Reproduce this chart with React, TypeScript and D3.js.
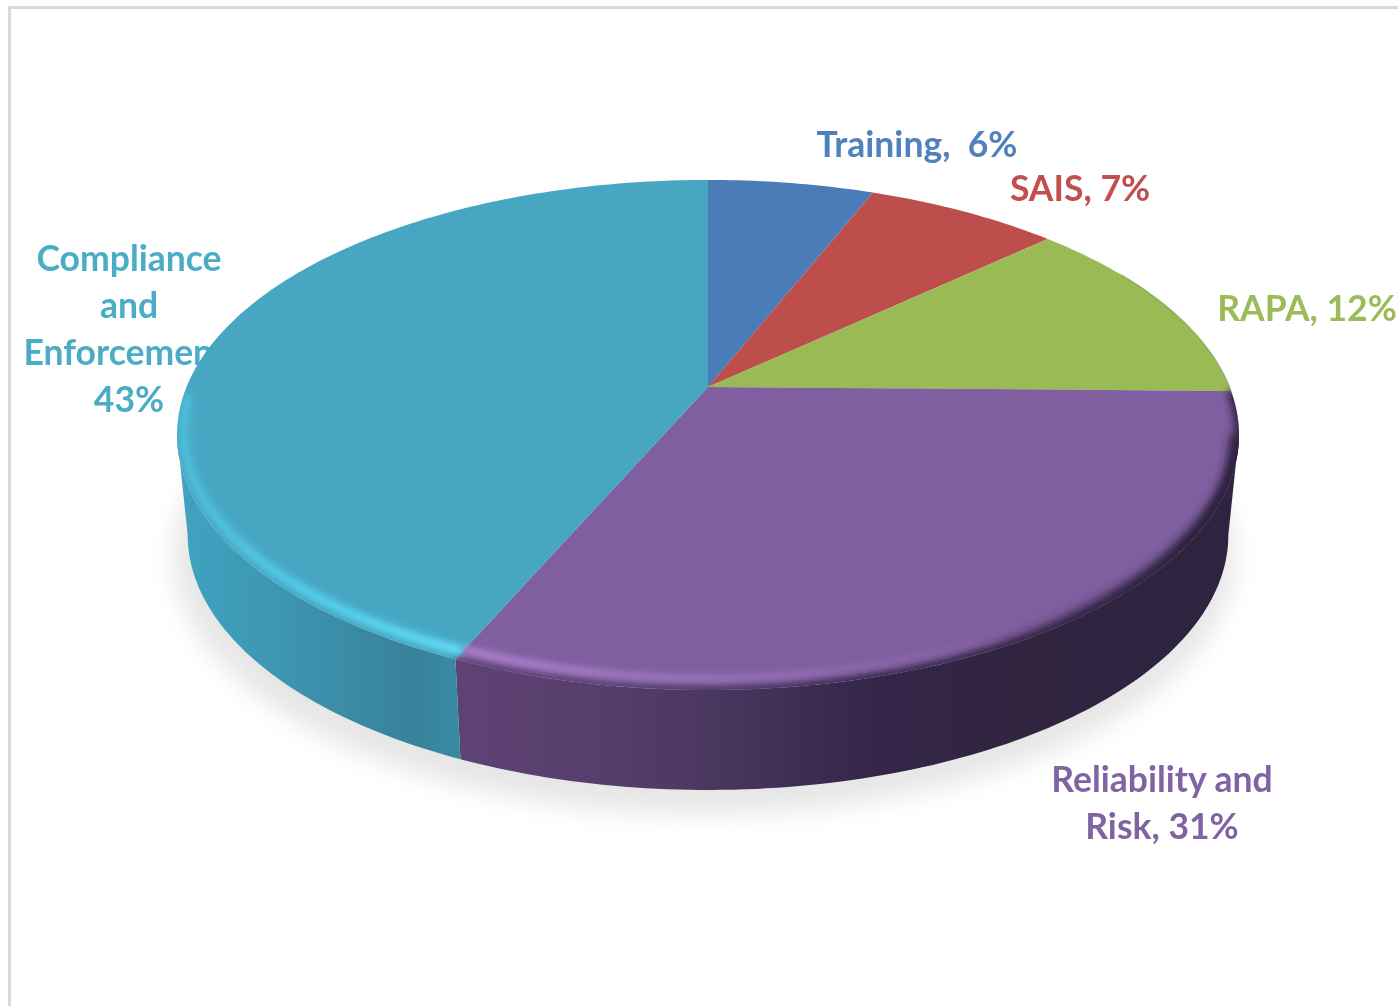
import React from "react";
import * as d3 from "d3";

// Share of work by program area, in percent, clockwise from twelve o'clock.
const categories = ["Training", "SAIS", "RAPA", "Reliability and Risk", "Compliance and Enforcement"];
const shares = [6, 7, 12, 31, 43];
const faceColors = ["#4a7db8", "#bd4e4b", "#9aba56", "#7f5f9f", "#47a7c3"];
const labelColors = ["#4f81bd", "#c0504d", "#9bbb59", "#8064a2", "#4bacc6"];
const labelLines = [
  ["Training,  6%"],
  ["SAIS, 7%"],
  ["RAPA, 12%"],
  ["Reliability and", "Risk, 31%"],
  ["Compliance", "and", "Enforcement,", "43%"],
];

const WIDTH = 1398;
const HEIGHT = 1006;

// Perspective projection of the unit disc onto the page.
const APEX_X = 708;
const APEX_Y = 387;
const SCALE_X = 521.5;
const SCALE_Y = 246;
const FORESHORTEN = 0.188;
const THICKNESS = 100;
const BASE_NARROWING = 0.98;

type Pt = [number, number];

function project(angle: number, radius = 1): Pt {
  const u = Math.sin(angle) * radius;
  const v = Math.cos(angle) * radius;
  const w = 1 + FORESHORTEN * v;
  return [APEX_X + (SCALE_X * u) / w, APEX_Y - (SCALE_Y * v) / w];
}

function projectBase(angle: number): Pt {
  const [x, y] = project(angle);
  return [APEX_X + (x - APEX_X) * BASE_NARROWING, y + THICKNESS];
}

const pieLayout = d3.pie<number>().sort(null).value((d) => d);
const arcs = pieLayout(shares);
const lineGen = d3.line<Pt>();
const deg = (d: number) => (d * Math.PI) / 180;

function sampleAngles(a0: number, a1: number): number[] {
  const n = Math.max(2, Math.ceil(((a1 - a0) * 180) / Math.PI));
  return d3.range(n + 1).map((i) => a0 + ((a1 - a0) * i) / n);
}

const facePath = (a0: number, a1: number) =>
  lineGen([[APEX_X, APEX_Y], ...sampleAngles(a0, a1).map((a) => project(a))]) + "Z";

const wallPath = (a0: number, a1: number) => {
  const angles = sampleAngles(a0, a1);
  return (
    lineGen([
      ...angles.map((a) => project(a)),
      ...angles.slice().reverse().map((a) => projectBase(a)),
    ]) + "Z"
  );
};

// Rim curve whose inset may change linearly along the arc.
const rimPath = (a0: number, a1: number, r0: number, r1: number = r0) => {
  const radius = d3.scaleLinear().domain([a0, a1]).range([r0, r1]);
  return lineGen(sampleAngles(a0, a1).map((a) => project(a, radius(a)))) as string;
};

// Line anchors for the data labels: centre x and first baseline.
const labelAnchors: Pt[] = [
  [917, 157],
  [1080, 201],
  [1307, 321],
  [1162, 792],
  [129, 271],
];
const LINE_STEP = 47;

const purple = arcs[3];
const cyan = arcs[4];
// Where the disc's silhouette is widest on each side; walls end at these angles.
const RIGHT_TANGENT = deg(100.8);
const LEFT_TANGENT = deg(259.2);

export default function App() {
  return (
    <svg
      width={WIDTH}
      height={HEIGHT}
      viewBox={`0 0 ${WIDTH} ${HEIGHT}`}
      style={{ position: "absolute", left: 0, top: 0, background: "#fff" }}
    >
      <defs>
        <filter id="shadowBlur" x="-20%" y="-20%" width="140%" height="140%">
          <feGaussianBlur stdDeviation="12" />
        </filter>
        <filter id="rimBlur" x="-10%" y="-10%" width="120%" height="120%">
          <feGaussianBlur stdDeviation="3.5" />
        </filter>
        <filter id="softEdge" x="-10%" y="-10%" width="120%" height="120%">
          <feGaussianBlur stdDeviation="5" />
        </filter>
        <filter id="textSoft">
          <feGaussianBlur stdDeviation="0.5" />
        </filter>
        <linearGradient id="wallCyan" gradientUnits="userSpaceOnUse" x1="177" x2="465" y1="0" y2="0">
          <stop offset="0" stopColor="#40a3c1" />
          <stop offset="0.45" stopColor="#3c92ae" />
          <stop offset="0.8" stopColor="#38829b" />
          <stop offset="1" stopColor="#3a8aa3" />
        </linearGradient>
        <linearGradient id="wallPurple" gradientUnits="userSpaceOnUse" x1="463" x2="1240" y1="0" y2="0">
          <stop offset="0" stopColor="#5e4274" />
          <stop offset="0.17" stopColor="#573e6c" />
          <stop offset="0.32" stopColor="#4a3760" />
          <stop offset="0.52" stopColor="#35264a" />
          <stop offset="0.72" stopColor="#30243f" />
          <stop offset="1" stopColor="#2e2440" />
        </linearGradient>
        <linearGradient id="rimCyan" gradientUnits="userSpaceOnUse" x1="177" x2="465" y1="0" y2="0">
          <stop offset="0" stopColor="#4fc4e2" stopOpacity="0.8" />
          <stop offset="0.45" stopColor="#55d2f0" stopOpacity="0.95" />
          <stop offset="1" stopColor="#66e2fc" stopOpacity="1" />
        </linearGradient>
        <linearGradient id="rimPurple" gradientUnits="userSpaceOnUse" x1="463" x2="1080" y1="0" y2="0">
          <stop offset="0" stopColor="#bb8ade" stopOpacity="0.95" />
          <stop offset="0.5" stopColor="#a67cc8" stopOpacity="0.65" />
          <stop offset="1" stopColor="#8e6bb0" stopOpacity="0" />
        </linearGradient>
        <linearGradient id="rimDark" gradientUnits="userSpaceOnUse" x1="960" x2="1180" y1="0" y2="0">
          <stop offset="0" stopColor="#2e2440" stopOpacity="0" />
          <stop offset="1" stopColor="#2e2440" stopOpacity="1" />
        </linearGradient>
        <clipPath id="topClip">
          <path d={facePath(0, 2 * Math.PI)} />
        </clipPath>
      </defs>

      {/* Chart frame */}
      <path d={`M9.5 ${HEIGHT} V7.5 H${WIDTH}`} fill="none" stroke="#d9d9d9" strokeWidth={3} />

      {/* Data labels sit under the disc, which overlaps the longest one */}
      <g
        fontFamily="Lato, Carlito, 'Noto Sans', sans-serif"
        fontWeight={700}
        fontSize={35.5}
        textAnchor="middle"
        filter="url(#textSoft)"
      >
        {categories.map((name, i) => (
          <text key={name} fill={labelColors[i]}>
            {labelLines[i].map((line, j) => (
              <tspan key={line} x={labelAnchors[i][0]} y={labelAnchors[i][1] + j * LINE_STEP} xmlSpace="preserve">
                {line}
              </tspan>
            ))}
          </text>
        ))}
      </g>

      {/* Cast shadow */}
      <ellipse cx={704} cy={556} rx={530} ry={258} fill="#dcdcdc" opacity={0.7} filter="url(#shadowBlur)" />

      {/* Side walls: only the two front slices show */}
      <path d={wallPath(RIGHT_TANGENT, purple.endAngle)} fill="url(#wallPurple)" />
      <path d={wallPath(cyan.startAngle, LEFT_TANGENT)} fill="url(#wallCyan)" />

      {/* Top faces */}
      {arcs.map((a, i) => (
        <path key={categories[i]} d={facePath(a.startAngle, a.endAngle)} fill={faceColors[i]} />
      ))}

      {/* Thin shaded edge along the back of the disc */}
      <path d={rimPath(deg(60), purple.startAngle, 1)} fill="none" stroke="#6d8a3a" strokeOpacity={0.45} strokeWidth={1.5} />

      {/* Bevel between face and wall: the wall colour bleeds onto the face, then the highlight */}
      <g clipPath="url(#topClip)">
        <path
          d={rimPath(purple.startAngle + deg(10), purple.endAngle, 1)}
          fill="none"
          stroke="url(#rimDark)"
          strokeWidth={18}
          filter="url(#softEdge)"
        />
        <path
          d={rimPath(purple.startAngle, purple.endAngle, 1)}
          fill="none"
          stroke="url(#wallPurple)"
          strokeWidth={9}
          filter="url(#rimBlur)"
        />
      </g>
      <path
        d={rimPath(cyan.startAngle, deg(268), 0.975, 0.99)}
        fill="none"
        stroke="url(#rimCyan)"
        strokeWidth={9}
        filter="url(#rimBlur)"
        clipPath="url(#topClip)"
      />
      <path
        d={rimPath(purple.startAngle + deg(40), purple.endAngle, 0.97)}
        fill="none"
        stroke="url(#rimPurple)"
        strokeWidth={7}
        filter="url(#rimBlur)"
      />
    </svg>
  );
}
